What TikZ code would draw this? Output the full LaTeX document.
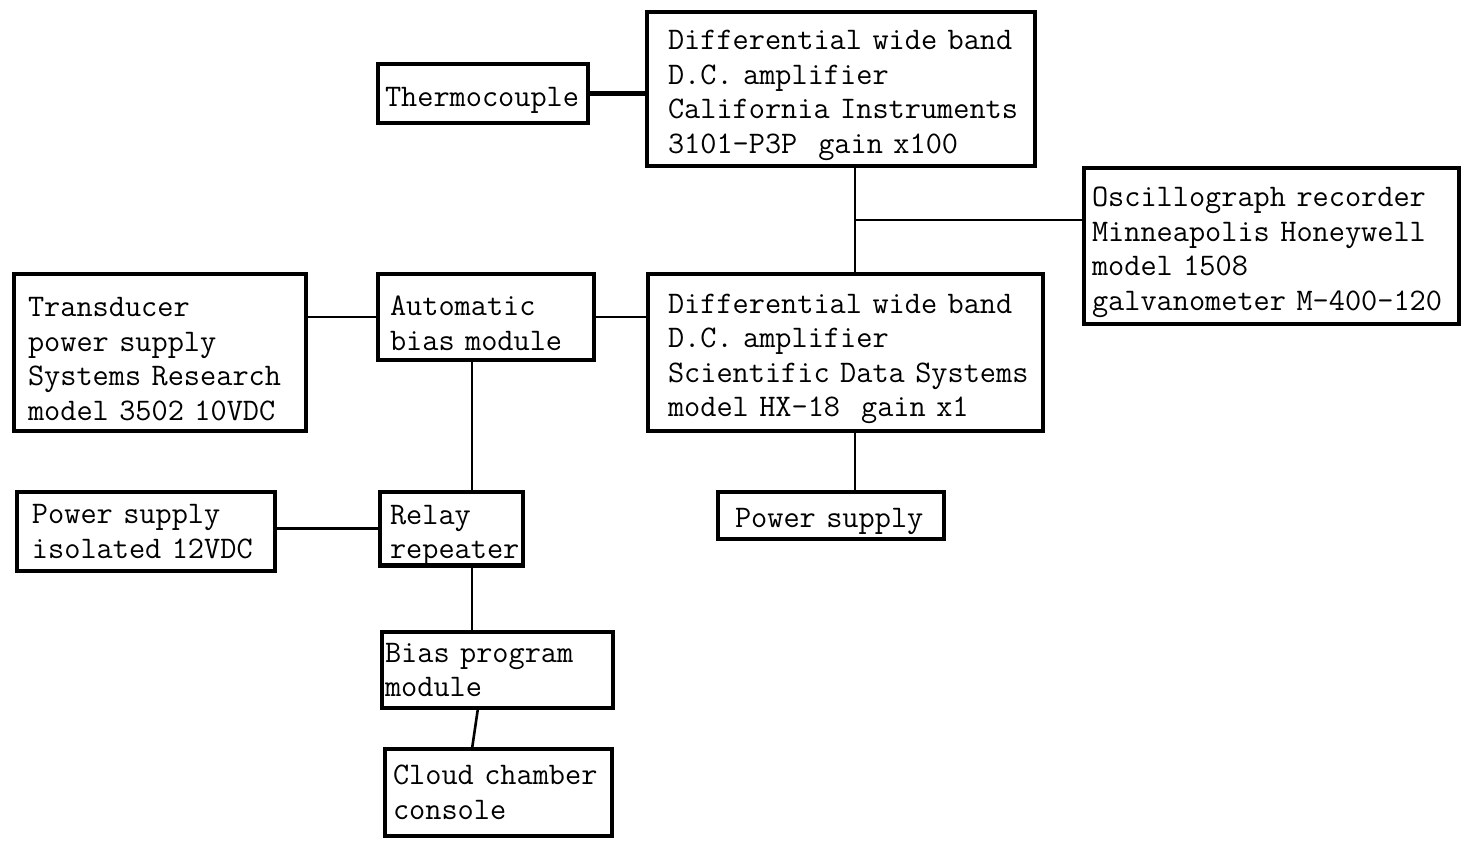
\documentclass[tikz,border=0pt]{standalone}
\usepackage{fontspec}
% tall zero-width strut that pushes the first typed line down a little
\newcommand\topstrut{\rule{0pt}{16pt}}
\begin{document}
\begin{tikzpicture}[x=0.5pt,y=-0.5pt,
  blk/.style={draw, line width=2.2pt, outer sep=0pt, anchor=north west,
    align=left, inner ysep=0pt,
    font={\ttfamily\fontsize{15.7}{17.3}\selectfont}},
  wire/.style={line width=1.3pt},
  heavywire/.style={line width=2.6pt}]
\useasboundingbox (0,0) rectangle (1463,841);

% instrument blocks
\node[blk, minimum height=29.5pt, text width=98pt, inner xsep=3.5pt] (thermo) at (378,64)
  {\topstrut\mbox{Thermocouple}};
\node[blk, minimum height=77pt, text width=173pt, inner xsep=10.5pt] (amp1) at (647,12)
  {\topstrut\mbox{Differential wide band}\\\mbox{D.C. amplifier}\\\mbox{California Instruments}\\\mbox{3101-P3P\ \ gain x100}};
\node[blk, minimum height=78pt, text width=179.5pt, inner xsep=4pt] (osc) at (1084,168)
  {\topstrut\mbox{Oscillograph recorder}\\\mbox{Minneapolis Honeywell}\\\mbox{model 1508}\\\mbox{galvanometer M-400-120}};
\node[blk, minimum height=78.5pt, text width=132pt, inner xsep=7pt] (trans) at (14,274)
  {\topstrut\mbox{Transducer}\\\mbox{power supply}\\\mbox{Systems Research}\\\mbox{model 3502 10VDC}};
\node[blk, minimum height=43pt, text width=96pt, inner xsep=6pt] (auto) at (378,274)
  {\topstrut\mbox{Automatic}\\\mbox{bias module}};
\node[blk, minimum height=78.5pt, text width=177.5pt, inner xsep=10pt] (amp2) at (648,274)
  {\topstrut\mbox{Differential wide band}\\\mbox{D.C. amplifier}\\\mbox{Scientific Data Systems}\\\mbox{model HX-18\ \ gain x1}};
\node[blk, minimum height=23.5pt, text width=96pt, inner xsep=8.5pt] (psr) at (718,492)
  {\topstrut\mbox{Power supply}};
\node[blk, minimum height=39.5pt, text width=114pt, inner xsep=7.5pt] (psiso) at (17,492)
  {\mbox{Power supply}\\\mbox{isolated 12VDC}};
\node[blk, minimum height=35.5pt, text width=61.5pt, inner xsep=5pt] (relay) at (380,492)
  {\topstrut\mbox{Relay}\\\mbox{repeater}};
\node[blk, minimum height=38pt, text width=112.5pt, inner xsep=1.5pt] (bias) at (382,632)
  {\mbox{Bias program}\\\mbox{module}};
\node[blk, minimum height=43.5pt, text width=105.5pt, inner xsep=4pt] (cloud) at (385,749)
  {\mbox{Cloud chamber}\\\mbox{console}};

% routing columns and junction
\coordinate (jA) at (855,220);
\coordinate (jB) at (472,0);
\coordinate (jC) at (478,0);

% connections
\draw[heavywire] (thermo.east) -- (thermo.east -| amp1.west);
\draw[wire] (jA |- amp1.south) -- (jA |- amp2.north);
\draw[wire] (jA) -- (jA -| osc.west);
\draw[wire] (auto.west) -- (auto.west -| trans.east);
\draw[wire] (auto.east) -- (auto.east -| amp2.west);
\draw[wire] (jB |- auto.south) -- (jB |- relay.north);
\draw[wire] (jA |- amp2.south) -- (jA |- psr.north);
\draw[wire] (relay.west) -- (relay.west -| psiso.east);
\draw[wire] (jB |- relay.south) -- (jB |- bias.north);
\draw[wire] (jC |- bias.south) -- (jB |- cloud.north);
\end{tikzpicture}
\end{document}
